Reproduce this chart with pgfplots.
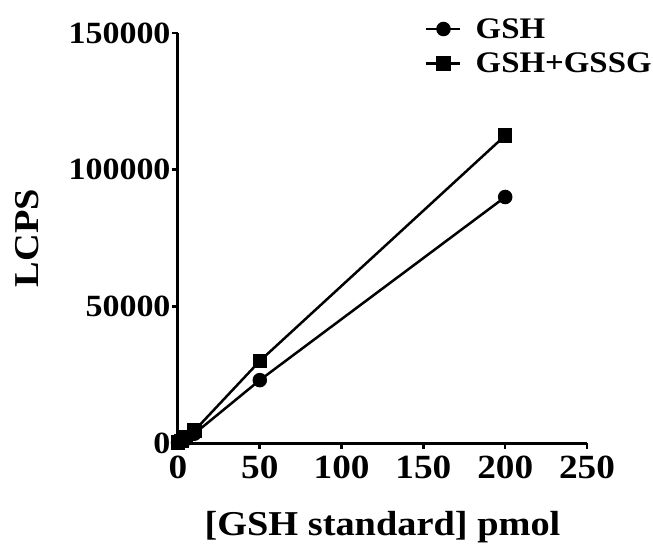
\documentclass[border=0pt]{standalone}
\usepackage{fontspec}
\setmainfont[FakeStretch=1.1]{Liberation Serif}
\usepackage{pgfplots}
\pgfplotsset{compat=1.18}

\begin{document}
\begin{tikzpicture}
  % frame of the whole picture, in pixels of the reference (1px = 1bp)
  \useasboundingbox (-178bp,-103bp) rectangle (475bp,443bp);
  \begin{axis}[
      scale only axis,
      width=409bp,
      height=410bp,
      xmin=0, xmax=250,
      ymin=0, ymax=150000,
      axis lines=left,
      axis line style={line width=3bp, -},
      xtick={0,50,100,150,200,250},
      ytick={0,50000,100000,150000},
      major tick length=6bp,
      tick style={line width=2.6bp, black},
      tick align=outside,
      scaled y ticks=false,
      /pgf/number format/fixed,
      /pgf/number format/precision=0,
      /pgf/number format/1000 sep={},
      /pgf/number format/assume math mode=true,
      xticklabel style={font=\fontsize{34}{36}\selectfont\bfseries, yshift=-3bp},
      yticklabel style={font=\fontsize{31}{36}\selectfont\bfseries, xshift=2bp},
      xlabel={[GSH standard] pmol},
      ylabel={LCPS},
      every axis x label/.style={at={(axis description cs:0.5,0)}, anchor=center,
        yshift=-84bp, font=\fontsize{35}{40}\selectfont\bfseries},
      every axis y label/.style={at={(axis description cs:-0.369,0.5)}, anchor=center,
        rotate=90, font=\fontsize{35}{40}\selectfont\bfseries},
      clip=false,
      legend style={at={(0.604,1.041)}, anchor=north west, draw=none, fill=none,
        font=\fontsize{30}{33}\selectfont\bfseries, row sep=9bp,
        inner sep=0pt, cells={anchor=west},
        /tikz/every odd column/.append style={column sep=12bp}},
      legend image code/.code={
        \draw[line width=2.5bp, mark repeat=2, mark phase=2]
          plot coordinates {(0bp,0bp) (17bp,0bp) (34bp,0bp)};},
    ]
    \addplot[black, line width=2.5bp, mark=*, mark size=6bp] coordinates {
      (0,100) (2,500) (5,1500) (10,3400) (50,23000) (200,90000)
    };
    \addlegendentry{GSH}
    \addplot[black, line width=2.5bp, mark=square*, mark size=6bp] coordinates {
      (0,200) (2,800) (5,2200) (10,4500) (50,30000) (200,112500)
    };
    \addlegendentry{GSH+GSSG}
  \end{axis}
\end{tikzpicture}
\end{document}
